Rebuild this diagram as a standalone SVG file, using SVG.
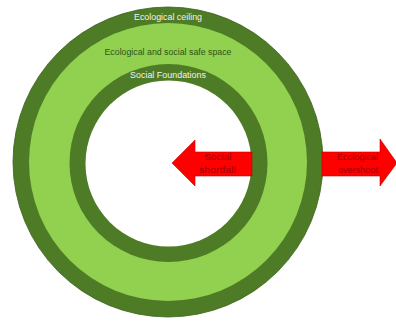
<svg xmlns="http://www.w3.org/2000/svg" width="396" height="321" viewBox="0 0 396 321">
<style>
.dark{fill:#4E7B26;}
.light{fill:#92D050;}
.arrow{fill:#FF0000;stroke:#C00000;stroke-width:0.6;}
text{font-family:"Liberation Sans",Arial,sans-serif;font-size:8.5px;text-anchor:middle;}
.w{fill:#F2F2F2;}
.g{fill:#2E5417;}
.r{fill:#A00000;}
</style>
<rect width="396" height="321" fill="#FFFFFF"/>
<g id="outer-ring">
<circle cx="168" cy="162" r="155" class="dark" stroke="#3A5F1C" stroke-width="0.8"/>
<circle cx="168" cy="162" r="139" class="light"/>
<text class="w" x="168" y="20" textLength="68" lengthAdjust="spacingAndGlyphs">Ecological ceiling</text>
</g>
<g id="safe-space">
<text class="g" x="168" y="55" textLength="127" lengthAdjust="spacingAndGlyphs">Ecological and social safe space</text>
</g>
<g id="inner-ring">
<circle cx="168.5" cy="163" r="99" class="dark"/>
<circle cx="168.5" cy="163.5" r="83" fill="#FFFFFF"/>
<text class="w" x="168" y="78" textLength="76" lengthAdjust="spacingAndGlyphs">Social Foundations</text>
</g>
<g id="connectors">
<polygon id="shortfall-arrow" class="arrow" points="172,163 195,140 195,152 252,152 252,176 195,176 195,186"/>
<polygon id="overshoot-arrow" class="arrow" points="322,152 380,152 380,139 397,163 380,186 380,176 322,176"/>
</g>
<g id="shortfall-label">
<text class="r" x="218" y="160" textLength="27" lengthAdjust="spacingAndGlyphs">Social</text>
<text class="r" x="217.5" y="173" textLength="37" lengthAdjust="spacingAndGlyphs">shortfall</text>
</g>
<g id="overshoot-label">
<text class="r" x="357.5" y="160" textLength="41" lengthAdjust="spacingAndGlyphs">Ecological</text>
<text class="r" x="358" y="173" textLength="40" lengthAdjust="spacingAndGlyphs">overshoot</text>
</g>
</svg>
